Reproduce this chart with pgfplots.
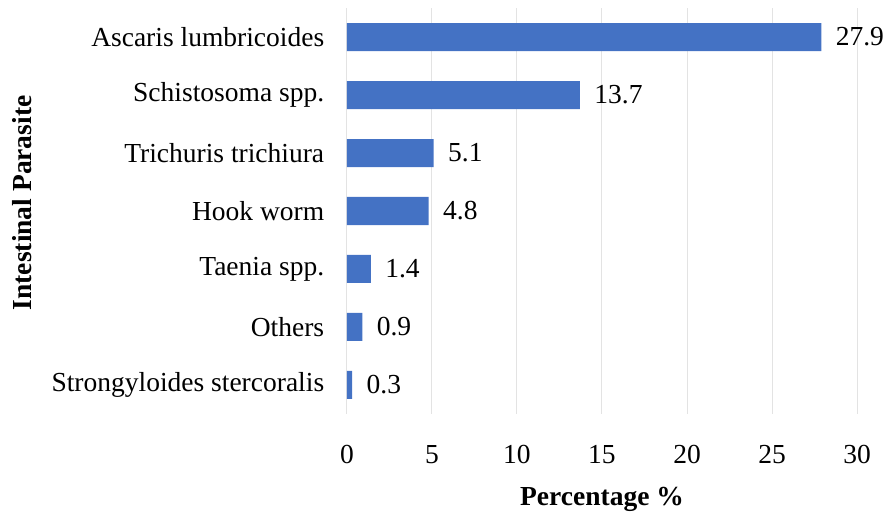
\documentclass[border=0pt]{standalone}
\usepackage{fontspec}
\setmainfont{Liberation Serif}
\usepackage{pgfplots}
\pgfplotsset{compat=1.18}
\definecolor{barblue}{HTML}{4472C4}
\definecolor{gridgray}{HTML}{E3E3E3}
\begin{document}
\begin{tikzpicture}
\begin{axis}[
  scale only axis, width=510pt, height=406pt,
  xbar, bar width=28pt,
  xmin=0, xmax=30, ymin=-0.5, ymax=6.5,
  xtick={0,5,...,30},
  ytick={0,...,6},
  yticklabels={Strongyloides stercoralis, Others, Taenia spp., Hook worm, Trichuris trichiura, Schistosoma spp., Ascaris lumbricoides},
  axis line style={draw=none},
  tick style={draw=none},
  xmajorgrids, grid style={gridgray, line width=1pt},
  ticklabel style={font=\fontsize{27.5}{33}\selectfont},
  /pgf/number format/assume math mode=true,
  xticklabel style={yshift=-28pt},
  yticklabel style={xshift=-15pt},
  xlabel={\textbf{Percentage \%}},
  ylabel={\textbf{Intestinal Parasite}},
  every axis x label/.style={at={(rel axis cs:0.5,0)}, anchor=center, yshift=-85pt, font=\fontsize{27.5}{33}\selectfont},
  every axis y label/.style={at={(rel axis cs:-0.637,0.52)}, anchor=center, rotate=90, font=\fontsize{27.5}{33}\selectfont},
  point meta=x,
  nodes near coords,
  nodes near coords style={font=\fontsize{27.5}{33}\selectfont, anchor=west, xshift=11pt, /pgf/number format/.cd, fixed, precision=1, fixed zerofill, assume math mode=true},
  clip=false,
]
\addplot[fill=barblue, draw=none] coordinates {
  (0.3,0) (0.9,1) (1.4,2) (4.8,3) (5.1,4) (13.7,5) (27.9,6)
};
\coordinate (bl) at (rel axis cs:0,0);
\coordinate (tr) at (rel axis cs:1,1);
\end{axis}
\pgfresetboundingbox
\path (bl) ++(-347pt,-104pt);
\path (tr) ++(26pt,8pt);
\end{tikzpicture}
\end{document}
